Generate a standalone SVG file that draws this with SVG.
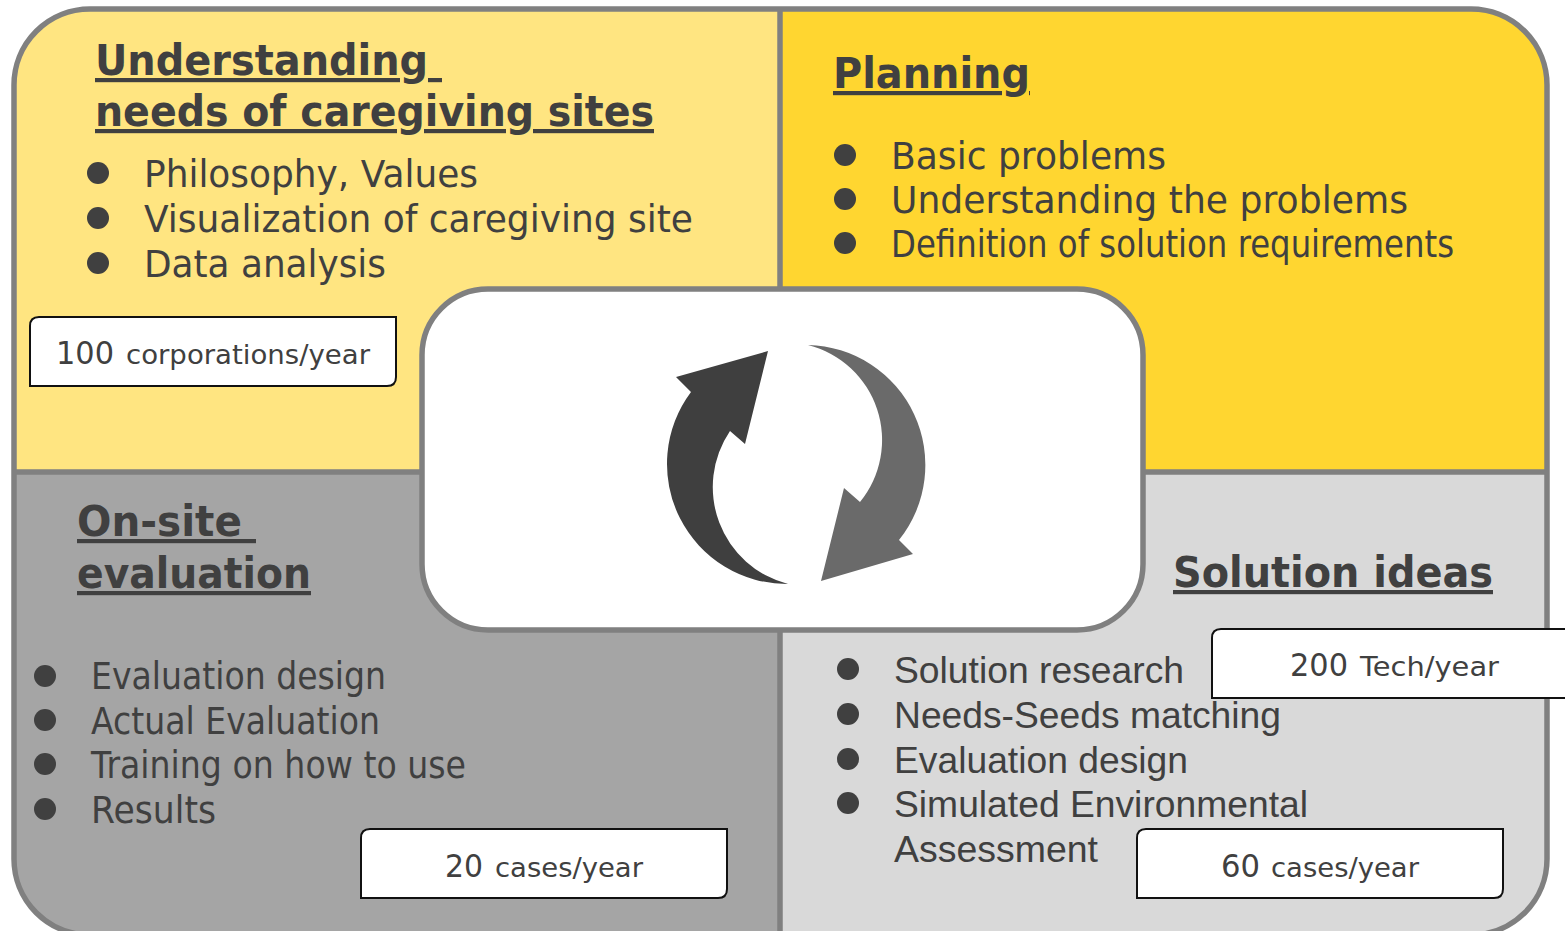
<svg xmlns="http://www.w3.org/2000/svg" width="1565" height="931" viewBox="0 0 1565 931">
<defs><style>
text{fill:#404040;font-family:"DejaVu Sans","Noto Sans",sans-serif}
.h{font-size:42px;font-weight:700;text-decoration:underline}
.b{font-size:37px}
.a{font-family:"Liberation Sans",Arial,sans-serif;font-size:37.5px}
.n{font-size:32px}.u{font-size:27px}
.box{fill:#fff;stroke:#111;stroke-width:2}
.dot{fill:#404040}
.div{stroke:#808080;stroke-width:5.5;fill:none}
</style>
<clipPath id="frame"><rect x="14" y="9" width="1533" height="926" rx="76"/></clipPath></defs>
<rect width="1565" height="931" fill="#fff"/>
<g id="quadrants" clip-path="url(#frame)">
<rect x="14" y="9" width="766" height="463" fill="#ffe581"/>
<rect x="780" y="9" width="767" height="463" fill="#ffd630"/>
<rect x="14" y="472" width="766" height="463" fill="#a5a5a5"/>
<rect x="780" y="472" width="767" height="463" fill="#d9d9d9"/>
<path class="div" d="M780 9V935M14 472H1547"/>
</g>
<rect id="frame-outline" x="14" y="9" width="1533" height="926" rx="76" class="div"/>
<g id="understanding">
<text class="h" x="95" y="75" textLength="347" lengthAdjust="spacingAndGlyphs" xml:space="preserve">Understanding </text>
<text class="h" x="95" y="126" textLength="559" lengthAdjust="spacingAndGlyphs">needs of caregiving sites</text>
<circle class="dot" cx="98" cy="173" r="11"/><circle class="dot" cx="98" cy="218" r="11"/><circle class="dot" cx="98" cy="263" r="11"/>
<text class="b" x="144" y="187" textLength="334" lengthAdjust="spacingAndGlyphs">Philosophy, Values</text>
<text class="b" x="144" y="232" textLength="549" lengthAdjust="spacingAndGlyphs">Visualization of caregiving site</text>
<text class="b" x="144" y="277" textLength="242" lengthAdjust="spacingAndGlyphs">Data analysis</text>
</g>
<g id="badge-corporations">
<path class="box" d="M30 386V326Q30 317 39 317H396V377Q396 386 387 386Z"/>
<text class="n" x="56" y="364" textLength="58" lengthAdjust="spacingAndGlyphs">100</text>
<text class="u" x="126" y="364" textLength="244" lengthAdjust="spacingAndGlyphs">corporations/year</text>
</g>
<g id="planning">
<text class="h" x="833" y="88" textLength="197" lengthAdjust="spacingAndGlyphs">Planning</text>
<circle class="dot" cx="845" cy="155" r="11"/><circle class="dot" cx="845" cy="199" r="11"/><circle class="dot" cx="845" cy="243" r="11"/>
<text class="b" x="891" y="169" textLength="275" lengthAdjust="spacingAndGlyphs">Basic problems</text>
<text class="b" x="891" y="213" textLength="517" lengthAdjust="spacingAndGlyphs">Understanding the problems</text>
<text class="b" x="891" y="257" textLength="563" lengthAdjust="spacingAndGlyphs">Definition of solution requirements</text>
</g>
<g id="evaluation">
<text class="h" x="77" y="536" textLength="179" lengthAdjust="spacingAndGlyphs" xml:space="preserve">On-site </text>
<text class="h" x="77" y="588" textLength="234" lengthAdjust="spacingAndGlyphs">evaluation</text>
<circle class="dot" cx="45" cy="676" r="11"/><circle class="dot" cx="45" cy="720" r="11"/><circle class="dot" cx="45" cy="764" r="11"/><circle class="dot" cx="45" cy="809" r="11"/>
<text class="b" x="91" y="689" textLength="295" lengthAdjust="spacingAndGlyphs">Evaluation design</text>
<text class="b" x="91" y="734" textLength="289" lengthAdjust="spacingAndGlyphs">Actual Evaluation</text>
<text class="b" x="91" y="778" textLength="375" lengthAdjust="spacingAndGlyphs">Training on how to use</text>
<text class="b" x="91" y="823" textLength="125" lengthAdjust="spacingAndGlyphs">Results</text>
</g>
<g id="badge-evaluation">
<path class="box" d="M361 898V838Q361 829 370 829H727V889Q727 898 718 898Z"/>
<text class="n" x="445" y="877" textLength="38" lengthAdjust="spacingAndGlyphs">20</text>
<text class="u" x="495" y="877" textLength="148" lengthAdjust="spacingAndGlyphs">cases/year</text>
</g>
<g id="solution">
<text class="h" x="1173" y="587" textLength="320" lengthAdjust="spacingAndGlyphs">Solution ideas</text>
<circle class="dot" cx="848" cy="669" r="11"/><circle class="dot" cx="848" cy="714" r="11"/><circle class="dot" cx="848" cy="759" r="11"/><circle class="dot" cx="848" cy="803" r="11"/>
<text class="a" x="894" y="683" textLength="290" lengthAdjust="spacingAndGlyphs">Solution research</text>
<text class="a" x="894" y="728" textLength="387" lengthAdjust="spacingAndGlyphs">Needs-Seeds matching</text>
<text class="a" x="894" y="773" textLength="294" lengthAdjust="spacingAndGlyphs">Evaluation design</text>
<text class="a" x="894" y="817" textLength="414" lengthAdjust="spacingAndGlyphs">Simulated Environmental</text>
<text class="a" x="894" y="862" textLength="204" lengthAdjust="spacingAndGlyphs">Assessment</text>
</g>
<g id="badge-tech">
<path class="box" d="M1212 698V638Q1212 629 1221 629H1570V698Z"/>
<text class="n" x="1290" y="676" textLength="58" lengthAdjust="spacingAndGlyphs">200</text>
<text class="u" x="1360" y="676" textLength="139" lengthAdjust="spacingAndGlyphs">Tech/year</text>
</g>
<g id="badge-cases">
<path class="box" d="M1137 898V838Q1137 829 1146 829H1503V889Q1503 898 1494 898Z"/>
<text class="n" x="1221" y="877" textLength="39" lengthAdjust="spacingAndGlyphs">60</text>
<text class="u" x="1271" y="877" textLength="148" lengthAdjust="spacingAndGlyphs">cases/year</text>
</g>
<g id="center">
<rect x="422" y="289" width="721" height="341" rx="66" fill="#fff" stroke="#808080" stroke-width="5.5"/>
<path fill="#3f3f3f" d="M768 351L676 377L691 392A120 120 0 0 0 788 584A100 100 0 0 1 730 431L745 444Z"/>
<path fill="#6a6a6a" d="M808 345A120 120 0 0 1 899 540L913 554L821 581L844 488L860 502A98 98 0 0 0 808 345Z"/>
</g>
</svg>
